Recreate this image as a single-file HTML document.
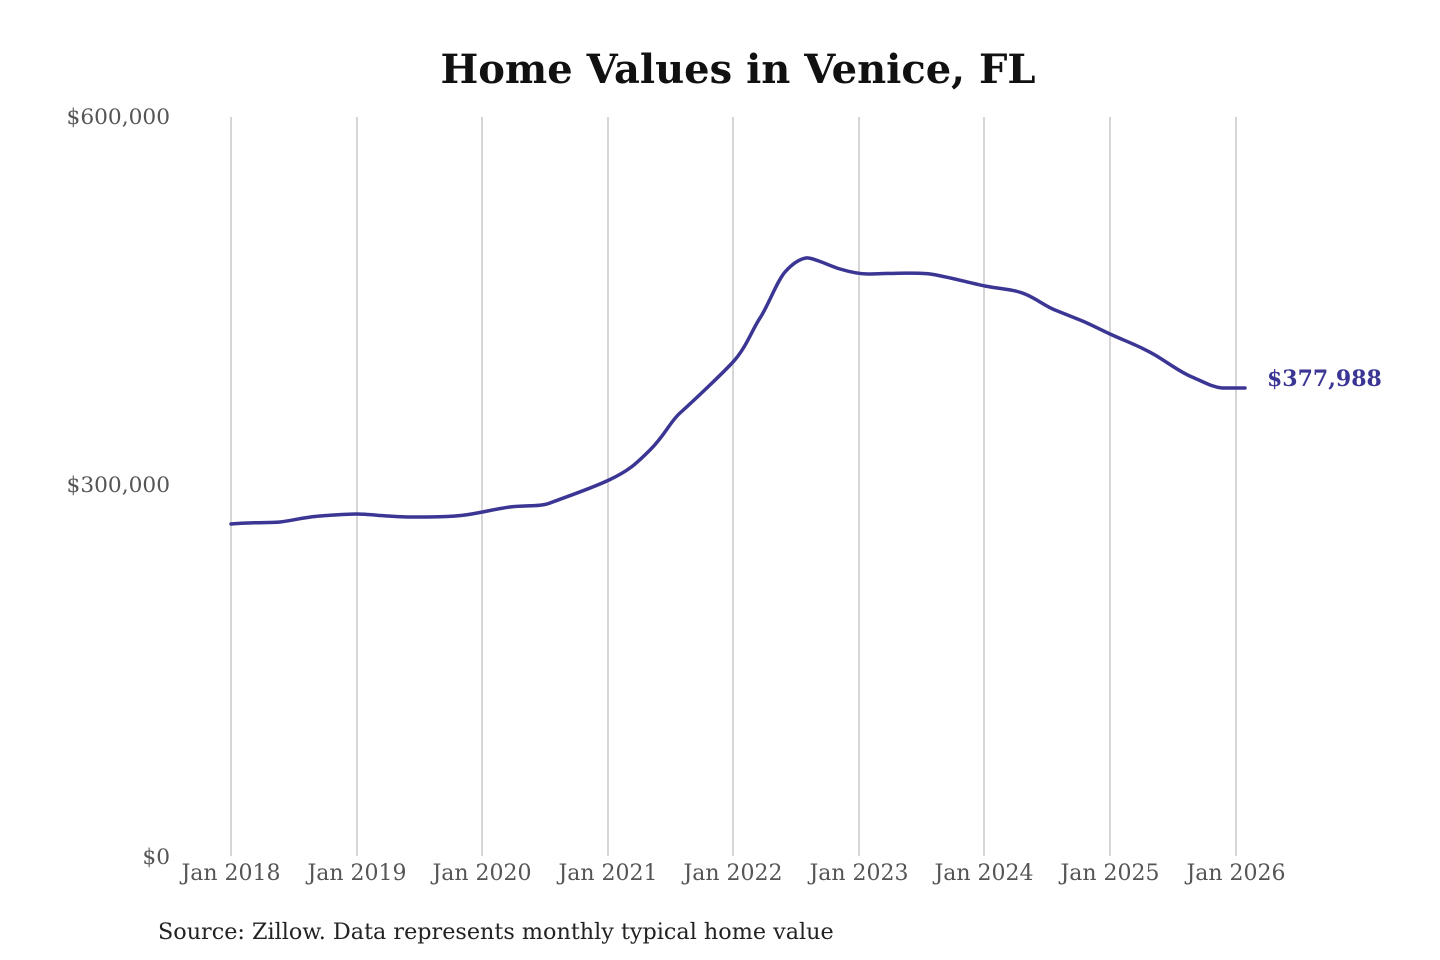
<!DOCTYPE html>
<html><head><meta charset="utf-8"><style>
body{margin:0;background:#fff;}
svg{display:block;}
</style></head><body>
<svg width="1440" height="960" xmlns="http://www.w3.org/2000/svg" font-family="'DejaVu Serif','Liberation Serif',serif">
<text x="738" y="83" text-anchor="middle" font-size="40" font-weight="bold" fill="#111">Home Values in Venice, FL</text>
<g stroke="#c8c8c8" stroke-width="1.5">
<line x1="231" y1="117" x2="231" y2="856"/><line x1="357" y1="117" x2="357" y2="856"/>
<line x1="482" y1="117" x2="482" y2="856"/><line x1="608" y1="117" x2="608" y2="856"/>
<line x1="733" y1="117" x2="733" y2="856"/><line x1="859" y1="117" x2="859" y2="856"/>
<line x1="984" y1="117" x2="984" y2="856"/><line x1="1110" y1="117" x2="1110" y2="856"/>
<line x1="1236" y1="117" x2="1236" y2="856"/>
</g>
<g font-size="21.7" fill="#555" text-anchor="end">
<text x="170" y="124">$600,000</text>
<text x="170" y="492">$300,000</text>
<text x="170" y="864">$0</text>
</g>
<g font-size="22" fill="#555" text-anchor="middle">
<text x="231" y="880">Jan 2018</text><text x="357" y="880">Jan 2019</text>
<text x="482" y="880">Jan 2020</text><text x="608" y="880">Jan 2021</text>
<text x="733" y="880">Jan 2022</text><text x="859" y="880">Jan 2023</text>
<text x="984" y="880">Jan 2024</text><text x="1110" y="880">Jan 2025</text>
<text x="1236" y="880">Jan 2026</text>
</g>
<path d="M231,524 C250,522 270,523 280,522 S305,517 320,516 S345,514 357,514 S390,517 410,517 S450,517 465,515 S495,509 510,507 S540,507 550,503 S590,489 609,480 S635,465 650,450 S670,422 680,413 S720,376 733,362 S752,330 760,318 S777,281 785,272 S800,259 806,258 S830,266 840,269 S860,274 868,274 S915,272 930,274 S970,283 985,286 S1013,289 1025,294 S1045,306 1055,310 S1070,316 1080,320 S1095,327 1110,334 S1140,346 1155,355 S1180,372 1192,377 S1212,387 1222,388 L1245,388" fill="none" stroke="#3b3594" stroke-width="3.5" stroke-linejoin="round" stroke-linecap="round"/>
<text x="1267" y="386" font-size="22" font-weight="bold" fill="#3b3594">$377,988</text>
<text x="158" y="939" font-size="22.3" fill="#222">Source: Zillow. Data represents monthly typical home value</text>
</svg>
</body></html>
